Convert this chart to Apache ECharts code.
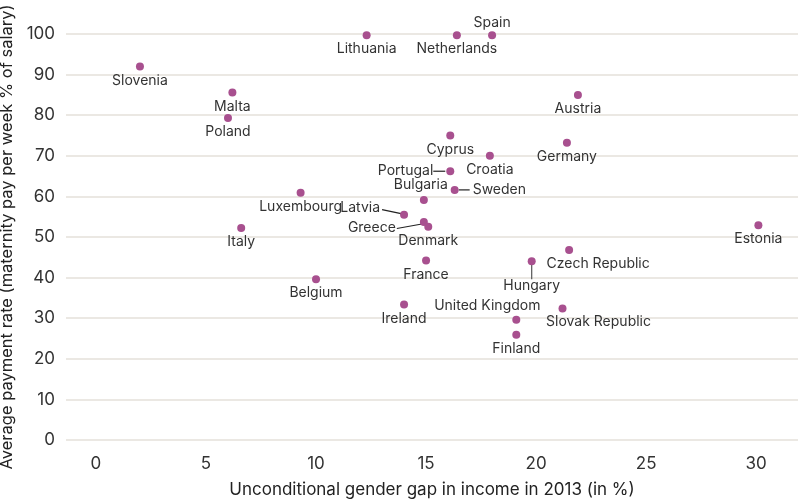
<!DOCTYPE html>
<html>
<head>
<meta charset="utf-8">
<script src="https://cdn.jsdelivr.net/npm/echarts@6/dist/echarts.min.js"></script>
<style>
  html, body { margin: 0; padding: 0; background: #fff; }
  #chart { width: 798px; height: 499px; }
</style>
</head>
<body>
<div id="chart"></div>
<script>
var countries = ['Slovenia', 'Malta', 'Poland', 'Lithuania', 'Luxembourg', 'Italy', 'Netherlands', 'Spain',
  'Austria', 'Cyprus', 'Croatia', 'Germany', 'Portugal', 'Sweden', 'Bulgaria', 'Latvia', 'Greece', 'Denmark',
  'France', 'Hungary', 'Czech Republic', 'Estonia', 'Belgium', 'Ireland', 'United Kingdom', 'Slovak Republic', 'Finland'];
var genderGap = [2.0, 6.2, 6.0, 12.3, 9.3, 6.6, 16.4, 18.0,
  21.9, 16.1, 17.9, 21.4, 16.1, 16.3, 14.9, 14.0, 14.9, 15.1,
  15.0, 19.8, 21.5, 30.1, 10.0, 14.0, 19.1, 21.2, 19.1];
var paymentRate = [92.0, 85.6, 79.3, 99.7, 60.9, 52.2, 99.7, 99.7,
  85.0, 75.0, 70.0, 73.2, 66.2, 61.6, 59.1, 55.5, 53.7, 52.5,
  44.2, 44.0, 46.8, 52.9, 39.6, 33.4, 29.6, 32.4, 25.9];
var xTicks = [0, 5, 10, 15, 20, 25, 30];

// label placement per country (default: below the dot); line = leader line offsets in px from the dot
var labelPlace = {
  'Spain': { position: 'top', distance: 1 },
  'Bulgaria': { position: 'top', distance: 4, offset: [-3, 0] },
  'Portugal': { position: 'left', distance: 13, line: [[-17, 0], [-5, 0]] },
  'Sweden': { position: 'right', distance: 14, line: [[4, 0], [15, 0]] },
  'Latvia': { position: 'left', distance: 20, offset: [0, -7], line: [[-22, -5], [-3, -1]] },
  'Greece': { position: 'left', distance: 24, offset: [0, 6], line: [[-27, 6.5], [-2, 2]] },
  'Hungary': { position: 'bottom', distance: 13, line: [[0, 0], [0, 18]] },
  'Czech Republic': { position: 'bottom', distance: 3, offset: [29, 0] },
  'United Kingdom': { position: 'top', distance: 3, offset: [-29, 0] },
  'Slovak Republic': { position: 'bottom', distance: 2, offset: [36, 0] }
};

var points = countries.map(function (name, i) {
  var p = labelPlace[name] || { position: 'bottom', distance: 3 };
  return {
    name: name,
    value: [genderGap[i], paymentRate[i]],
    label: { position: p.position, distance: p.distance, offset: p.offset || [0, 0] }
  };
});

var chart = echarts.init(document.getElementById('chart'));
chart.setOption({
  backgroundColor: '#fff',
  animation: false,
  textStyle: { fontFamily: 'Inter' },
  grid: { left: 66, right: 0, top: 34, bottom: 59, outerBoundsMode: 'none' },
  xAxis: {
    type: 'value',
    min: -1.36,
    max: 31.9,
    name: 'Unconditional gender gap in income in 2013 (in %)',
    nameLocation: 'middle',
    nameGap: 41,
    nameTextStyle: { fontSize: 17, color: '#222' },
    axisLine: { show: false },
    axisTick: { show: false },
    splitLine: { show: false },
    axisLabel: { customValues: xTicks, fontSize: 17, color: '#333', margin: 15 }
  },
  yAxis: {
    type: 'value',
    min: 0,
    max: 100,
    interval: 10,
    name: 'Average payment rate (maternity pay per week % of salary)',
    nameLocation: 'middle',
    nameGap: 44,
    nameTextStyle: { fontSize: 16.5, color: '#222' },
    axisLine: { show: false },
    axisTick: { show: false },
    splitLine: { lineStyle: { color: '#e5e1da', width: 1.5 } },
    axisLabel: { fontSize: 17, color: '#333', margin: 11 }
  },
  series: [{
    type: 'scatter',
    symbolSize: 8,
    itemStyle: { color: '#a8508f', opacity: 1 },
    label: {
      show: true,
      formatter: '{b}',
      fontSize: 14,
      color: '#333'
    },
    data: points
  }]
});

// leader lines, anchored on the dots via the chart's own scales
var leaders = [];
countries.forEach(function (name, i) {
  var p = labelPlace[name];
  if (!p || !p.line) return;
  var c = chart.convertToPixel({ gridIndex: 0 }, [genderGap[i], paymentRate[i]]);
  leaders.push({
    type: 'line',
    silent: true,
    z: 1,
    shape: { x1: c[0] + p.line[0][0], y1: c[1] + p.line[0][1], x2: c[0] + p.line[1][0], y2: c[1] + p.line[1][1] },
    style: { stroke: name === 'Hungary' ? '#555' : '#222', lineWidth: 1.2 }
  });
});
chart.setOption({ graphic: leaders });
</script>
</body>
</html>
